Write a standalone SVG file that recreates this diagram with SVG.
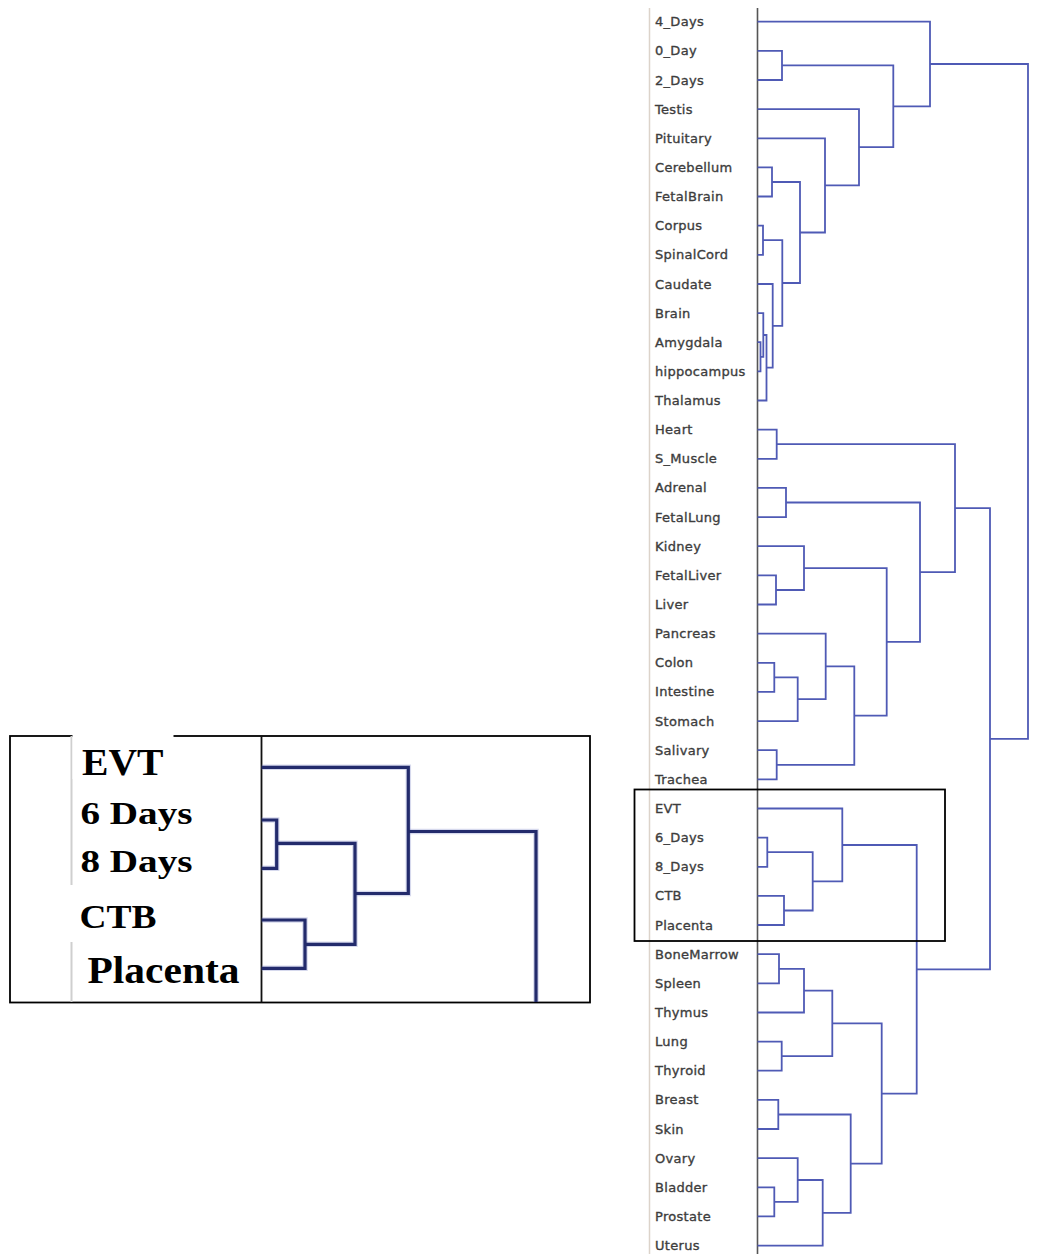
<svg xmlns="http://www.w3.org/2000/svg" width="1039" height="1254" viewBox="0 0 1039 1254">
  <style>
    .leaf { font-family: "DejaVu Sans", "Liberation Sans", sans-serif; font-size: 13px; fill: #3d3d3d; stroke: #3d3d3d; stroke-width: 0.35; letter-spacing: 0.3px; }
    .link { fill: none; stroke: #4f5ab5; stroke-width: 1.8; }
    .zlink { fill: none; stroke: #232b6c; stroke-width: 3.2; }
    .zhalo { fill: none; stroke: #8a92cc; stroke-width: 5.5; opacity: 0.35; }
    .big { font-family: "Liberation Serif", "Times New Roman", serif; font-weight: bold; fill: #000; }
  </style>
  <rect x="0" y="0" width="1039" height="1254" fill="#ffffff"/>

  <!-- label column guide and leaf axis -->
  <line x1="649.5" y1="8" x2="649.5" y2="1254" stroke="#dcd3ca" stroke-width="1.5"/>
  <line x1="757.5" y1="8" x2="757.5" y2="1254" stroke="#555555" stroke-width="1.6"/>

  <!-- leaf labels -->
  <g id="leaves">
    <g id="leaf-4_Days"><text class="leaf" x="655" y="26.2">4_Days</text></g>
    <g id="leaf-0_Day"><text class="leaf" x="655" y="55.3">0_Day</text></g>
    <g id="leaf-2_Days"><text class="leaf" x="655" y="84.5">2_Days</text></g>
    <g id="leaf-Testis"><text class="leaf" x="655" y="113.6">Testis</text></g>
    <g id="leaf-Pituitary"><text class="leaf" x="655" y="142.8">Pituitary</text></g>
    <g id="leaf-Cerebellum"><text class="leaf" x="655" y="171.9">Cerebellum</text></g>
    <g id="leaf-FetalBrain"><text class="leaf" x="655" y="201">FetalBrain</text></g>
    <g id="leaf-Corpus"><text class="leaf" x="655" y="230.2">Corpus</text></g>
    <g id="leaf-SpinalCord"><text class="leaf" x="655" y="259.3">SpinalCord</text></g>
    <g id="leaf-Caudate"><text class="leaf" x="655" y="288.5">Caudate</text></g>
    <g id="leaf-Brain"><text class="leaf" x="655" y="317.6">Brain</text></g>
    <g id="leaf-Amygdala"><text class="leaf" x="655" y="346.7">Amygdala</text></g>
    <g id="leaf-hippocampus"><text class="leaf" x="655" y="375.9">hippocampus</text></g>
    <g id="leaf-Thalamus"><text class="leaf" x="655" y="405">Thalamus</text></g>
    <g id="leaf-Heart"><text class="leaf" x="655" y="434.2">Heart</text></g>
    <g id="leaf-S_Muscle"><text class="leaf" x="655" y="463.3">S_Muscle</text></g>
    <g id="leaf-Adrenal"><text class="leaf" x="655" y="492.4">Adrenal</text></g>
    <g id="leaf-FetalLung"><text class="leaf" x="655" y="521.6">FetalLung</text></g>
    <g id="leaf-Kidney"><text class="leaf" x="655" y="550.7">Kidney</text></g>
    <g id="leaf-FetalLiver"><text class="leaf" x="655" y="579.9">FetalLiver</text></g>
    <g id="leaf-Liver"><text class="leaf" x="655" y="609">Liver</text></g>
    <g id="leaf-Pancreas"><text class="leaf" x="655" y="638.1">Pancreas</text></g>
    <g id="leaf-Colon"><text class="leaf" x="655" y="667.3">Colon</text></g>
    <g id="leaf-Intestine"><text class="leaf" x="655" y="696.4">Intestine</text></g>
    <g id="leaf-Stomach"><text class="leaf" x="655" y="725.6">Stomach</text></g>
    <g id="leaf-Salivary"><text class="leaf" x="655" y="754.7">Salivary</text></g>
    <g id="leaf-Trachea"><text class="leaf" x="655" y="783.8">Trachea</text></g>
    <g id="leaf-EVT"><text class="leaf" x="655" y="813">EVT</text></g>
    <g id="leaf-6_Days"><text class="leaf" x="655" y="842.1">6_Days</text></g>
    <g id="leaf-8_Days"><text class="leaf" x="655" y="871.3">8_Days</text></g>
    <g id="leaf-CTB"><text class="leaf" x="655" y="900.4">CTB</text></g>
    <g id="leaf-Placenta"><text class="leaf" x="655" y="929.5">Placenta</text></g>
    <g id="leaf-BoneMarrow"><text class="leaf" x="655" y="958.7">BoneMarrow</text></g>
    <g id="leaf-Spleen"><text class="leaf" x="655" y="987.8">Spleen</text></g>
    <g id="leaf-Thymus"><text class="leaf" x="655" y="1017">Thymus</text></g>
    <g id="leaf-Lung"><text class="leaf" x="655" y="1046.1">Lung</text></g>
    <g id="leaf-Thyroid"><text class="leaf" x="655" y="1075.2">Thyroid</text></g>
    <g id="leaf-Breast"><text class="leaf" x="655" y="1104.4">Breast</text></g>
    <g id="leaf-Skin"><text class="leaf" x="655" y="1133.5">Skin</text></g>
    <g id="leaf-Ovary"><text class="leaf" x="655" y="1162.7">Ovary</text></g>
    <g id="leaf-Bladder"><text class="leaf" x="655" y="1191.8">Bladder</text></g>
    <g id="leaf-Prostate"><text class="leaf" x="655" y="1220.9">Prostate</text></g>
    <g id="leaf-Uterus"><text class="leaf" x="655" y="1250.1">Uterus</text></g>
  </g>

  <!-- dendrogram brackets -->
  <g id="connectors">
    <!-- early days / brain cluster -->
    <path class="link" d="M757.5 50.8 H782 V80 H757.5"/>
    <path class="link" d="M757.5 167.4 H772 V196.5 H757.5"/>
    <path class="link" d="M757.5 225.7 H763 V254.8 H757.5"/>
    <path class="link" d="M757.5 342.2 H760.5 V371.4 H757.5"/>
    <path class="link" d="M757.5 313.1 H763.3 V356.8 H760.5"/>
    <path class="link" d="M763.3 335 H766.5 V400.5 H757.5"/>
    <path class="link" d="M757.5 284 H772.7 V367.7 H766.5"/>
    <path class="link" d="M763 240.2 H782.3 V325.9 H772.7"/>
    <path class="link" d="M772 182 H800 V283 H782.3"/>
    <path class="link" d="M757.5 138.3 H825 V232.5 H800"/>
    <path class="link" d="M757.5 109.1 H859 V185.4 H825"/>
    <path class="link" d="M782 65.4 H893.3 V147.2 H859"/>
    <path class="link" d="M757.5 21.7 H930 V106.3 H893.3"/>
    <!-- muscle / organ / digestive cluster -->
    <path class="link" d="M757.5 429.7 H776.7 V458.8 H757.5"/>
    <path class="link" d="M757.5 487.9 H786 V517.1 H757.5"/>
    <path class="link" d="M757.5 575.4 H776 V604.5 H757.5"/>
    <path class="link" d="M757.5 546.2 H804 V590 H776"/>
    <path class="link" d="M757.5 662.8 H774.3 V691.9 H757.5"/>
    <path class="link" d="M774.3 677.4 H797.7 V721.1 H757.5"/>
    <path class="link" d="M757.5 633.6 H825.7 V699.2 H797.7"/>
    <path class="link" d="M757.5 750.2 H776.7 V779.3 H757.5"/>
    <path class="link" d="M825.7 666.4 H854.3 V764.8 H776.7"/>
    <path class="link" d="M804 568.1 H886.7 V715.6 H854.3"/>
    <path class="link" d="M786 502.5 H920 V641.8 H886.7"/>
    <path class="link" d="M776.7 444.2 H955 V572.2 H920"/>
    <!-- trophoblast cluster -->
    <path class="link" d="M757.5 837.6 H767.3 V866.8 H757.5"/>
    <path class="link" d="M757.5 895.9 H784 V925 H757.5"/>
    <path class="link" d="M767.3 852.2 H812.7 V910.5 H784"/>
    <path class="link" d="M757.5 808.5 H842.3 V881.4 H812.7"/>
    <!-- immune / gland / reproductive cluster -->
    <path class="link" d="M757.5 954.2 H779 V983.3 H757.5"/>
    <path class="link" d="M779 968.8 H804 V1012.5 H757.5"/>
    <path class="link" d="M757.5 1041.6 H781.7 V1070.7 H757.5"/>
    <path class="link" d="M804 990.6 H832.3 V1056.2 H781.7"/>
    <path class="link" d="M757.5 1099.9 H778.3 V1129 H757.5"/>
    <path class="link" d="M757.5 1187.3 H774.3 V1216.4 H757.5"/>
    <path class="link" d="M757.5 1158.2 H797.7 V1201.9 H774.3"/>
    <path class="link" d="M797.7 1180 H822.7 V1245.6 H757.5"/>
    <path class="link" d="M778.3 1114.5 H850.7 V1212.8 H822.7"/>
    <path class="link" d="M832.3 1023.4 H881.7 V1163.7 H850.7"/>
    <path class="link" d="M842.3 845 H916.7 V1093.6 H881.7"/>
    <!-- upper joins -->
    <path class="link" d="M955 508.2 H990 V969.3 H916.7"/>
    <path class="link" d="M930 64 H1028 V738.8 H990"/>
  </g>

  <!-- highlight frame around the trophoblast rows -->
  <rect id="highlight" x="634.5" y="789.5" width="310.5" height="151.5" fill="none" stroke="#000" stroke-width="1.8"/>

  <!-- enlarged view of the trophoblast cluster -->
  <g id="inset">
    <rect x="10" y="736" width="580" height="266.5" fill="#ffffff" stroke="#000" stroke-width="1.8"/>
    <line x1="71.5" y1="736" x2="71.5" y2="1002" stroke="#cfcfcf" stroke-width="2"/>
    <line x1="261.5" y1="736" x2="261.5" y2="1002.5" stroke="#111" stroke-width="1.8"/>
    <rect x="72.5" y="727" width="101" height="52" fill="#ffffff"/>
    <rect x="67" y="885" width="105" height="57" fill="#ffffff"/>
    <g id="inset-links">
      <path class="zhalo" d="M261.7 820 H276.7 V868.3 H261.7"/>
      <path class="zhalo" d="M261.7 920 H305 V968.3 H261.7"/>
      <path class="zhalo" d="M276.7 843.3 H355 V944.3 H305"/>
      <path class="zhalo" d="M261.7 767.3 H408.3 V893.5 H355"/>
      <path class="zhalo" d="M408.3 831.5 H536 V1002"/>
      <path class="zlink" d="M261.7 820 H276.7 V868.3 H261.7"/>
      <path class="zlink" d="M261.7 920 H305 V968.3 H261.7"/>
      <path class="zlink" d="M276.7 843.3 H355 V944.3 H305"/>
      <path class="zlink" d="M261.7 767.3 H408.3 V893.5 H355"/>
      <path class="zlink" d="M408.3 831.5 H536 V1002"/>
    </g>
    <g id="inset-EVT"><text class="big" x="82" y="775" font-size="38" textLength="81.5" lengthAdjust="spacingAndGlyphs">EVT</text></g>
    <g id="inset-6Days"><text class="big" x="80.5" y="824" font-size="32" textLength="112" lengthAdjust="spacingAndGlyphs">6 Days</text></g>
    <g id="inset-8Days"><text class="big" x="80.5" y="871.5" font-size="32" textLength="112" lengthAdjust="spacingAndGlyphs">8 Days</text></g>
    <g id="inset-CTB"><text class="big" x="79.5" y="927.5" font-size="33" textLength="77" lengthAdjust="spacingAndGlyphs">CTB</text></g>
    <g id="inset-Placenta"><text class="big" x="87.5" y="983" font-size="38" textLength="152" lengthAdjust="spacingAndGlyphs">Placenta</text></g>
  </g>
</svg>
